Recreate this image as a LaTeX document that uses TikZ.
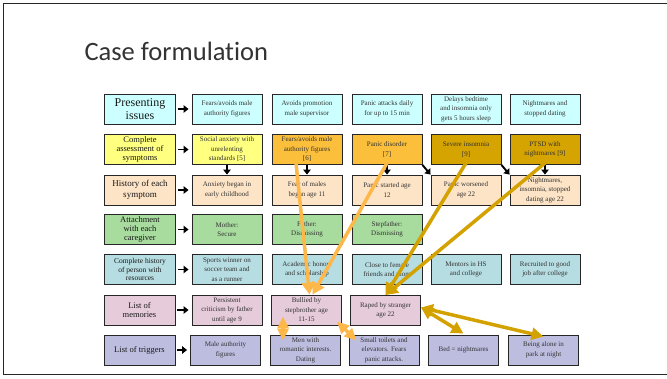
\documentclass[tikz,border=0pt]{standalone}
\usepackage{fontspec}
\setmainfont{Liberation Serif}
\newfontfamily\titlefont[Ligatures={NoCommon,NoDiscretionary,NoContextual}]{Carlito}
\usetikzlibrary{arrows.meta}
\definecolor{cyanbox}{HTML}{CCFFFF}
\definecolor{yellowbox}{HTML}{FFFF80}
\definecolor{orangebox}{HTML}{FBBF3B}
\definecolor{goldbox}{HTML}{D6A400}
\definecolor{peachbox}{HTML}{FDE4C6}
\definecolor{greenbox}{HTML}{A8DB9E}
\definecolor{bluebox}{HTML}{B6DDE2}
\definecolor{pinkbox}{HTML}{E6CBDA}
\definecolor{lavbox}{HTML}{BDBDE0}
\definecolor{oline}{HTML}{FDB849}
\definecolor{gline}{HTML}{D4A200}
\begin{document}
\begin{tikzpicture}[x=1pt,y=-1pt,
  box/.style={draw=black!85, line width=0.9pt, minimum width=70pt, minimum height=30pt,
    inner sep=1pt, align=center, font=\fontsize{7}{9.5}\selectfont, text=black!80},
  lab/.style={box, minimum width=71pt, font=\fontsize{8.5}{9}\selectfont, text=black!90},
  barr/.style={-{Triangle[length=5pt,width=7.5pt]}, line width=1.9pt, draw=black},
  oarr/.style={-{Triangle[length=12pt,width=13pt]}, line width=3.5pt, draw=oline},
  oarrd/.style={{Triangle[length=12pt,width=11pt]}-{Triangle[length=12pt,width=11pt]}, line width=3.5pt, draw=oline},
  garr/.style={-{Triangle[length=12pt,width=13pt]}, line width=3.5pt, draw=gline},
  garrd/.style={{Triangle[length=12pt,width=12pt]}-{Triangle[length=12pt,width=12pt]}, line width=3.5pt, draw=gline}]
\useasboundingbox (0,0) rectangle (667,378);
\fill[white] (0,0) rectangle (667,378);
\draw[black!85, line width=1.6pt] (670,3.5) -- (3.5,3.5) -- (3.5,374.5) -- (670,374.5);
\node[anchor=west, font=\titlefont\fontsize{26.5}{30}\selectfont, text=black!80] (title) at (81,51) {Case formulation};
% row 1
\node[lab, fill=cyanbox, font=\fontsize{12}{13}\selectfont] (l1) at (140,109) {Presenting\\issues};
\node[box, fill=cyanbox] (a1) at (227,109) {Fears/avoids male\\authority figures};
\node[box, fill=cyanbox] (a2) at (307,109) {Avoids promotion\\male supervisor};
\node[box, fill=cyanbox] (a3) at (387,109) {Panic attacks daily\\for up to 15 min};
\node[box, fill=cyanbox] (a4) at (466,109) {Delays bedtime\\and insomnia only\\gets 5 hours sleep};
\node[box, fill=cyanbox] (a5) at (545,109) {Nightmares and\\stopped dating};
% row 2
\node[lab, fill=yellowbox] (l2) at (140,149.5) {Complete\\assessment of\\symptoms};
\node[box, fill=yellowbox] (b1) at (227,149.5) {Social anxiety with\\unrelenting\\standards [5]};
\node[box, fill=orangebox] (b2) at (307,149.5) {Fears/avoids male\\authority figures\\{}[6]};
\node[box, fill=orangebox] (b3) at (387,149.5) {Panic disorder\\{}[7]};
\node[box, fill=goldbox] (b4) at (466,149.5) {Severe insomnia\\{}[9]};
\node[box, fill=goldbox] (b5) at (545,149.5) {PTSD with\\nightmares [9]};
% row 3
\node[lab, fill=peachbox, font=\fontsize{9}{11}\selectfont] (l3) at (140,190) {History of each\\symptom};
\node[box, fill=peachbox] (c1) at (227,190) {Anxiety began in\\early childhood};
\node[box, fill=peachbox] (c2) at (307,190) {Fear of males\\began age 11};
\node[box, fill=peachbox] (c3) at (387,190) {Panic started age\\12};
\node[box, fill=peachbox] (c4) at (466,190) {Panic worsened\\age 22};
\node[box, fill=peachbox] (c5) at (545,190) {Nightmares,\\insomnia, stopped\\dating age 22};
% row 4
\node[lab, fill=greenbox] (l4) at (140,229.5) {Attachment\\with each\\caregiver};
\node[box, fill=greenbox] (d1) at (227,229.5) {Mother:\\Secure};
\node[box, fill=greenbox] (d2) at (307,229.5) {Father:\\Dismissing};
\node[box, fill=greenbox] (d3) at (387,229.5) {Stepfather:\\Dismissing};
% row 5
\node[lab, fill=bluebox, font=\fontsize{7.5}{8.5}\selectfont] (l5) at (140,269.5) {Complete history\\of person with\\resources};
\node[box, fill=bluebox] (e1) at (227,269.5) {Sports winner on\\soccer team and\\as a runner};
\node[box, fill=bluebox] (e2) at (307,269.5) {Academic honors\\and scholarship};
\node[box, fill=bluebox] (e3) at (387,269.5) {Close to female\\friends and mom};
\node[box, fill=bluebox] (e4) at (466,269.5) {Mentors in HS\\and college};
\node[box, fill=bluebox] (e5) at (545,269.5) {Recruited to good\\job after college};
% row 6
\node[lab, fill=pinkbox] (l6) at (139.5,310) {List of\\memories};
\node[box, fill=pinkbox] (f1) at (227,310) {Persistent\\criticism by father\\until age 9};
\node[box, fill=pinkbox] (f2) at (306.5,310) {Bullied by\\stepbrother age\\11-15};
\node[box, fill=pinkbox] (f3) at (385.5,310.5) {Raped by stranger\\age 22};
% row 7
\node[lab, fill=lavbox] (l7) at (139.5,350) {List of triggers};
\node[box, fill=lavbox] (g1) at (225.5,350) {Male authority\\figures};
\node[box, fill=lavbox] (g2) at (305.5,350) {Men with\\romantic interests.\\Dating};
\node[box, fill=lavbox] (g3) at (384,350) {Small toilets and\\elevators. Fears\\panic attacks.};
\node[box, fill=lavbox] (g4) at (463.5,350) {Bed = nightmares};
\node[box, fill=lavbox] (g5) at (543.5,350) {Being alone in\\park at night};
% black arrows from labels
\foreach \l/\r in {l1/a1,l2/b1,l3/c1,l4/d1,l5/e1,l6/f1,l7/g1}
  \draw[barr, shorten <=2pt, shorten >=3pt] (\l) -- (\r);
% down arrows
\foreach \t/\b in {b1/c1,b2/c2,b3/c3,b5/c5}
  \draw[barr] (\t) -- (\b.north);
\draw[barr] (b3.south east) -- (c4.north west);
\draw[barr] (b4.south east) -- (c5.north west);
% orange connectors
\draw[oarr] ([xshift=-11pt,yshift=2pt]b2.south) -- ([xshift=3pt]f2.north);
\draw[oarr] ([yshift=2pt]b3.south) -- ([xshift=6pt]f2.north);
\draw[oarrd] ([xshift=12pt,yshift=9pt]f2.south west) -- ([xshift=13pt,yshift=-6pt]g2.north west);
\draw[oarrd] ([xshift=-5pt,yshift=4pt]f2.south east) -- ([xshift=8pt,yshift=-6pt]g3.north west);
% gold connectors
\draw[garr] ([yshift=2pt]b4.south) -- (f3.north);
\draw[garr] ([yshift=2pt]b5.south) -- (f3.north);
\draw[garrd] ([yshift=3pt]f3.east) -- ([yshift=1pt]g4.north);
\draw[garrd] ([yshift=3pt]f3.east) -- ([yshift=-2pt]g5.north);
\end{tikzpicture}
\end{document}
